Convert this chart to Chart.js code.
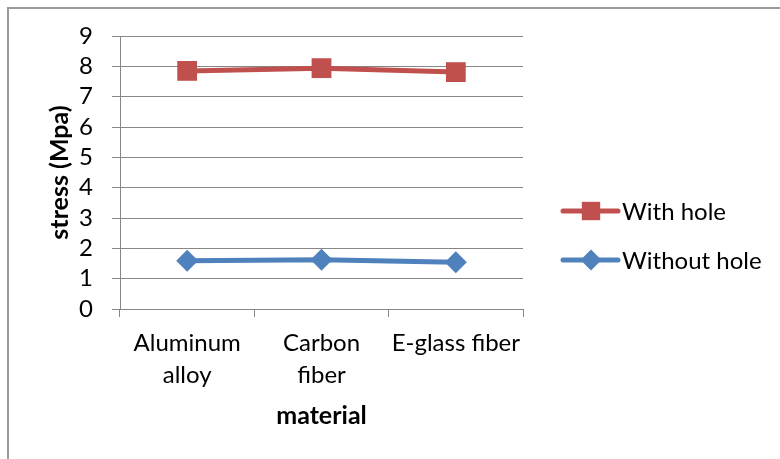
<!DOCTYPE html>
<html>
<head>
<meta charset="utf-8">
<script src="https://cdn.jsdelivr.net/npm/chart.js@4"></script>
<style>
  html, body { margin: 0; padding: 0; background: #fff; overflow: hidden; }
  #wrap { position: relative; width: 780px; height: 459px; }
  #frame { position: absolute; left: 7px; top: 7px; width: 900px; height: 600px; border: 2px solid #9a9a9a; box-sizing: border-box; }
  #chart { position: absolute; left: 0; top: 0; }
</style>
</head>
<body>
<div id="wrap">
  <div id="frame"></div>
  <canvas id="chart" width="780" height="459"></canvas>
</div>
<script>
const categories = [["Aluminum", "alloy"], ["Carbon", "fiber"], "E-glass fiber"];
const withHole = [7.85, 7.94, 7.81];
const withoutHole = [1.59, 1.62, 1.54];
const yMin = 0;
const yMax = 9;
const yStep = 1;
const seriesNames = ["With hole", "Without hole"];

const RED = "#c0504d";
const BLUE = "#4f81bd";
const GRID = "#878787";
const FONT = "Lato, 'Open Sans', sans-serif";

// legend drawn by hand so the line runs through the marker, like Excel
const lineLegend = {
  id: "lineLegend",
  afterDraw(chart) {
    const ctx = chart.ctx;
    const area = chart.chartArea;
    const x0 = area.right + 40;
    const mid = (area.top + area.bottom) / 2 + 63;
    const gap = 49;
    chart.data.datasets.forEach((ds, i) => {
      const y = mid - gap / 2 + i * gap;
      ctx.save();
      ctx.strokeStyle = ds.borderColor;
      ctx.lineWidth = 5;
      ctx.lineCap = "round";
      ctx.beginPath();
      ctx.moveTo(x0, y);
      ctx.lineTo(x0 + 55, y);
      ctx.stroke();
      ctx.fillStyle = ds.backgroundColor;
      Chart.helpers.drawPoint(ctx, {
        pointStyle: ds.pointStyle,
        radius: ds.pointStyle === "rect" ? 13 : 10.5,
        rotation: 0,
        borderWidth: 0
      }, x0 + 28, y);
      ctx.fillStyle = "#000";
      ctx.font = "24px " + FONT;
      ctx.textBaseline = "middle";
      ctx.fillText(ds.label, x0 + 59, y + 1);
      ctx.restore();
    });
  }
};

new Chart(document.getElementById("chart"), {
  type: "line",
  data: {
    labels: categories,
    datasets: [
      {
        label: seriesNames[0],
        data: withHole,
        borderColor: RED,
        backgroundColor: RED,
        borderWidth: 5,
        pointStyle: "rect",
        pointRadius: 14,
        pointHoverRadius: 14,
        pointBorderWidth: 0,
        tension: 0
      },
      {
        label: seriesNames[1],
        data: withoutHole,
        borderColor: BLUE,
        backgroundColor: BLUE,
        borderWidth: 5,
        pointStyle: "rectRot",
        pointRadius: 11,
        pointHoverRadius: 11,
        pointBorderWidth: 0,
        tension: 0
      }
    ]
  },
  options: {
    responsive: false,
    animation: false,
    layout: { padding: { left: 45, top: 36, right: 257, bottom: 28 } },
    plugins: {
      legend: { display: false },
      tooltip: { enabled: false }
    },
    scales: {
      x: {
        offset: true,
        afterFit: s => { s.height = 122; },
        grid: {
          offset: true,
          drawOnChartArea: false,
          color: GRID,
          tickLength: 8
        },
        border: { color: GRID, width: 1 },
        ticks: {
          color: "#000",
          padding: 10,
          maxRotation: 0,
          autoSkip: false,
          font: { family: FONT, size: 24, lineHeight: 1.33 }
        },
        title: {
          display: true,
          text: "material",
          color: "#000",
          padding: { top: 10, bottom: 0 },
          font: { family: FONT, size: 25, weight: "bold" }
        }
      },
      y: {
        min: yMin,
        max: yMax,
        afterFit: s => { s.width = 75; },
        grid: { color: GRID, tickLength: 8 },
        border: { color: GRID, width: 1 },
        ticks: {
          stepSize: yStep,
          autoSkip: false,
          color: "#000",
          padding: 19,
          font: { family: FONT, size: 24, lineHeight: 1 }
        },
        title: {
          display: true,
          text: "stress (Mpa)",
          color: "#000",
          padding: { top: 0, bottom: 5 },
          font: { family: FONT, size: 25, weight: "bold" }
        }
      }
    }
  },
  plugins: [lineLegend]
});
</script>
</body>
</html>
